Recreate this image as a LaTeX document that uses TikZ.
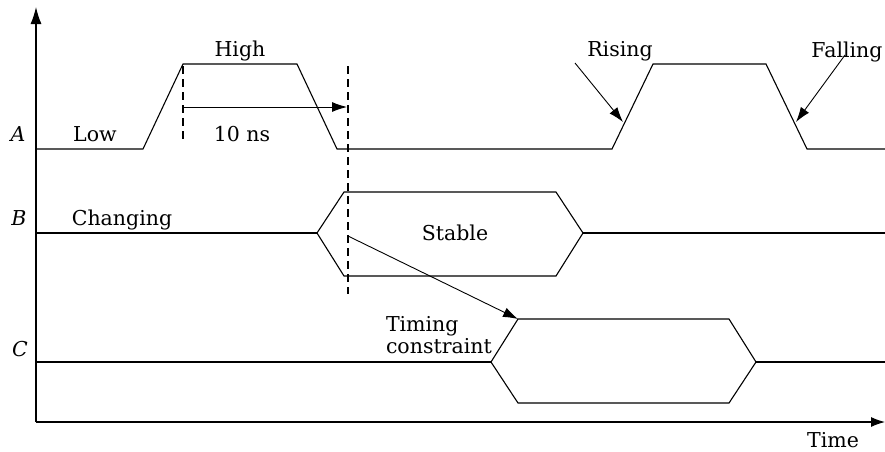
\documentclass[tikz,border=0pt]{standalone}
\usepackage{fontspec}
\setmainfont{DejaVu Serif}
\usetikzlibrary{arrows.meta}
\begin{document}
\begin{tikzpicture}[x=1pt,y=-1pt,
  wave/.style={line width=1.1pt, line join=miter},
  axisline/.style={line width=1.1pt},
  tipped/.style={line width=0.9pt, -{Latex[length=15pt,width=10pt]}},
  dashmark/.style={line width=2.8pt, dash pattern=on 8pt off 5pt},
  lbl/.style={font=\fontsize{20.5}{22}\selectfont, anchor=base, inner sep=0pt},
]
\useasboundingbox (0,0) rectangle (885,451);
% axes
\coordinate (o) at (36,422);
\coordinate (ytop) at (36,7);
\coordinate (xend) at (885,422);
\draw[axisline,-{Latex[length=17pt,width=11pt]}] (o) -- (ytop);
\draw[axisline,-{Latex[length=14pt,width=10pt]}] (o) -- (xend);
% signal A
\coordinate (a0) at (36,149);
\coordinate (a1) at (143,149);
\coordinate (a2) at (183,64);
\coordinate (a3) at (297,64);
\coordinate (a4) at (337,149);
\coordinate (a5) at (612,149);
\coordinate (a6) at (653,64);
\coordinate (a7) at (766,64);
\coordinate (a8) at (807,149);
\coordinate (a9) at (885,149);
\draw[wave] (a0) -- (a1) -- (a2) -- (a3) -- (a4) -- (a5) -- (a6) -- (a7) -- (a8) -- (a9);
% signal B
\coordinate (b0) at (36,233);
\coordinate (b1) at (317,233);
\coordinate (b2) at (344,192);
\coordinate (b3) at (556,192);
\coordinate (b4) at (583,233);
\coordinate (b5) at (556,276);
\coordinate (b6) at (344,276);
\coordinate (b7) at (885,233);
\draw[wave] (b0) -- (b1);
\draw[wave] (b1) -- (b2) -- (b3) -- (b4) -- (b5) -- (b6) -- cycle;
\draw[wave] (b4) -- (b7);
% signal C
\coordinate (c0) at (36,362);
\coordinate (c1) at (491,362);
\coordinate (c2) at (518,319);
\coordinate (c3) at (729,319);
\coordinate (c4) at (756,362);
\coordinate (c5) at (729,403);
\coordinate (c6) at (518,403);
\coordinate (c7) at (885,362);
\draw[wave] (c0) -- (c1);
\draw[wave] (c1) -- (c2) -- (c3) -- (c4) -- (c5) -- (c6) -- cycle;
\draw[wave] (c4) -- (c7);
% dashed markers
\coordinate (d1t) at (183,66);
\coordinate (d1b) at (183,142);
\coordinate (d2t) at (348,66);
\coordinate (d2b) at (348,294);
\draw[dashmark] (d1t) -- (d1b);
\draw[dashmark] (d2t) -- (d2b);
% 10 ns arrow
\coordinate (t1) at (183,107);
\coordinate (t2) at (347,107);
\draw[tipped] (t1) -- (t2);
% timing constraint arrow
\coordinate (k1) at (348,236);
\draw[tipped] (k1) -- (c2);
% labels
\node[lbl] (lA) at (18,141) {\textit{A}};
\node[lbl] (lB) at (19,225) {\textit{B}};
\node[lbl] (lC) at (20,356) {\textit{C}};
\node[lbl] (low) at (95,141) {Low};
\node[lbl] (high) at (240,56) {High};
\node[lbl] (tens) at (242,141) {10 ns};
\node[lbl] (chg) at (122,225) {Changing};
\node[lbl] (stb) at (455,240) {Stable};
\node[lbl, anchor=base east] (tim) at (492,353) {constraint};
\node[lbl, anchor=base west] (tim2) at (tim.base west |- 0,331) {Timing};
\node[lbl] (rise) at (620,56) {Rising};
\node[lbl] (fall) at (847,57) {Falling};
\node[lbl] (time) at (833,447) {Time};
% edge arrows
\coordinate (r1) at (575,63);
\coordinate (r2) at (623,122);
\coordinate (f1) at (845,55);
\coordinate (f2) at (796,122);
\draw[tipped] (r1) -- (r2);
\draw[tipped] (f1) -- (f2);
\end{tikzpicture}
\end{document}
